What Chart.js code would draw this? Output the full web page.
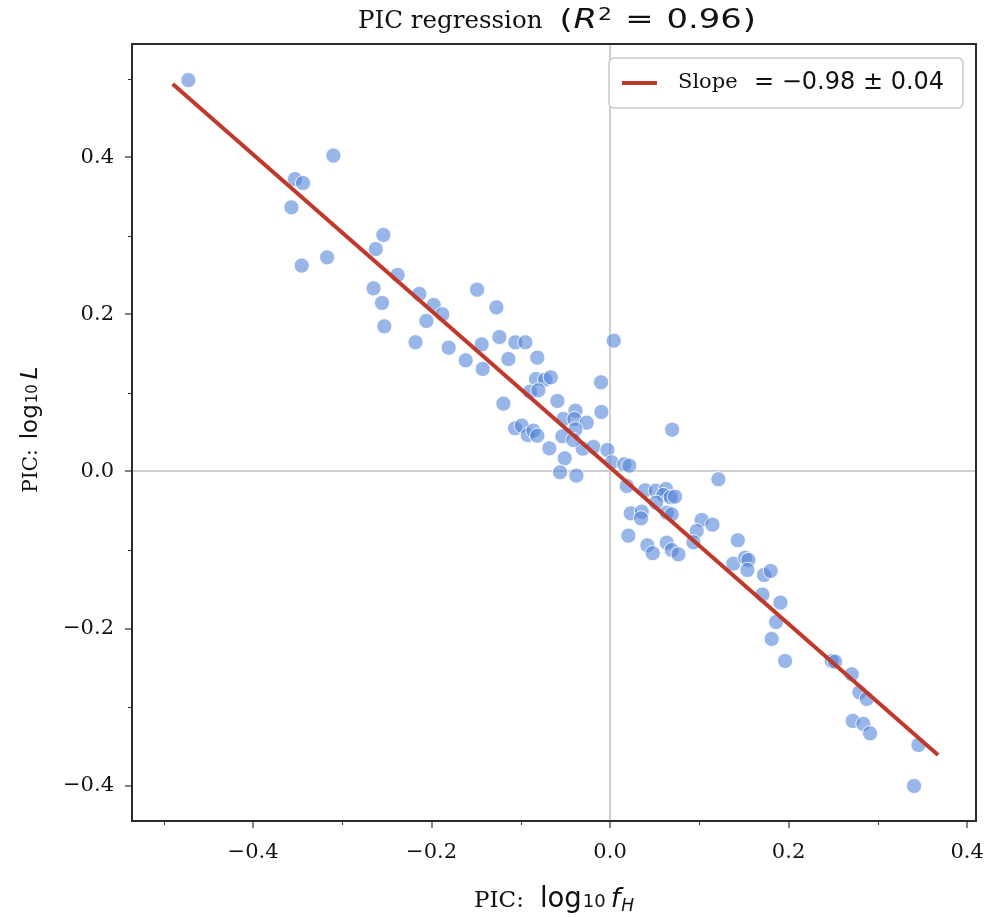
<!DOCTYPE html>
<html><head><meta charset="utf-8">
<script src="https://cdn.jsdelivr.net/npm/chart.js@4.4.1/dist/chart.umd.min.js"></script>
<style>html,body{margin:0;padding:0;background:#fff}#wrap{width:993px;height:917px}</style>
</head><body><div id="wrap"><canvas id="c" width="993" height="917"></canvas></div>
<script>
const picX = [-0.4725,-0.310,-0.353,-0.344,-0.357,-0.254,-0.2625,-0.317,-0.3455,-0.238,-0.265,-0.2137,-0.2555,-0.2529,-0.1976,-0.1879,-0.2058,-0.218,-0.1808,-0.149,-0.1273,-0.1617,-0.1438,-0.1427,-0.124,-0.1061,-0.0949,-0.1139,-0.0815,-0.0829,-0.0728,-0.0664,-0.0896,-0.0803,-0.1195,-0.059,-0.0101,-0.0097,-0.0523,-0.0388,-0.04,-0.0261,-0.1064,-0.099,-0.0922,-0.0859,-0.0815,-0.0534,-0.068,-0.0388,-0.0306,-0.0187,-0.003,-0.0508,-0.056,-0.0377,0.0041,0.0019,-0.0411,0.016,0.0216,0.0695,0.1214,0.0187,0.0392,0.0512,0.0627,0.0597,0.068,0.0728,0.0515,0.0232,0.0355,0.0347,0.0635,0.0691,0.0205,0.0418,0.0478,0.0635,0.0691,0.0766,0.1027,0.0971,0.0934,0.1147,0.1431,0.1382,0.1513,0.155,0.1539,0.1725,0.180,0.1707,0.1909,0.186,0.1811,0.1961,0.2484,0.2521,0.2708,0.2794,0.2876,0.2719,0.2838,0.2913,0.3455,0.3406];
const picY = [0.498,0.402,0.372,0.367,0.336,0.301,0.283,0.2725,0.262,0.250,0.233,0.226,0.2144,0.1847,0.2118,0.200,0.1915,0.1644,0.1575,0.2313,0.2089,0.1415,0.1618,0.1304,0.1711,0.1644,0.1644,0.1431,0.1448,0.1177,0.1168,0.1198,0.1015,0.1033,0.0863,0.0897,0.1135,0.0757,0.0668,0.0774,0.0668,0.0621,0.055,0.0583,0.0464,0.0519,0.0455,0.0448,0.0295,0.0537,0.029,0.0312,0.0274,0.0168,-0.001,-0.0053,0.1664,0.0117,0.040,0.0092,0.0074,0.0532,-0.0099,-0.0184,-0.0239,-0.0244,-0.0223,-0.0299,-0.0328,-0.032,-0.0397,-0.0532,-0.0511,-0.0596,-0.0524,-0.0545,-0.0817,-0.0939,-0.104,-0.0906,-0.0999,-0.1054,-0.0617,-0.0757,-0.0901,-0.0677,-0.0875,-0.1173,-0.1097,-0.1126,-0.1253,-0.1317,-0.1266,-0.1567,-0.1669,-0.1915,-0.2131,-0.2411,-0.2411,-0.242,-0.258,-0.2809,-0.2894,-0.3174,-0.3212,-0.3331,-0.348,-0.4001];
const fitX = [-0.490, 0.3675];
const fitY = [0.493, -0.3607];
const xTicks = [-0.5,-0.4,-0.3,-0.2,-0.1,0.0,0.1,0.2,0.3,0.4];
const yTicks = [-0.4,-0.3,-0.2,-0.1,0.0,0.1,0.2,0.3,0.4,0.5];
const titleText = ['PIC regression', '(', 'R', '2', '=', '0.96', ')'];
const legendText = ['Slope', '= \u22120.98 \u00b1 0.04'];

const isMajor = v => Math.abs(Math.round(v*10)) % 2 === 0;
const fmt = v => { if (!isMajor(v)) return ''; const s = Math.abs(v).toFixed(1); return v < -1e-9 ? '\u2212' + s : s; };
const isZero = v => Math.abs(v) < 1e-9;

// run = [text, font, dy, gapAfter, scaleX]
function runsWidth(ctx, runs) {
  let w = 0;
  runs.forEach(r => { ctx.font = r[1]; r.w = ctx.measureText(r[0]).width * (r[4] || 1); w += r.w + (r[3] || 0); });
  return w;
}
function drawRuns(ctx, runs, x, y) {
  runs.forEach(r => {
    ctx.font = r[1];
    const sx = r[4] || 1;
    ctx.save(); ctx.translate(x, y + (r[2] || 0)); ctx.scale(sx, 1); ctx.fillText(r[0], 0, 0); ctx.restore();
    x += r.w + (r[3] || 0);
  });
}

const decor = {
  id: 'decor',
  afterDraw(chart) {
    const ctx = chart.ctx, a = chart.chartArea;
    const xs = chart.scales.x, ys = chart.scales.y;
    ctx.save();
    // minor ticks
    ctx.strokeStyle = '#333'; ctx.lineWidth = 1;
    xTicks.filter(v => !isMajor(v)).forEach(v => {
      const px = Math.round(xs.getPixelForValue(v)) + 0.5;
      ctx.beginPath(); ctx.moveTo(px, a.bottom); ctx.lineTo(px, a.bottom + 4); ctx.stroke();
    });
    yTicks.filter(v => !isMajor(v)).forEach(v => {
      const py = Math.round(ys.getPixelForValue(v)) + 0.5;
      ctx.beginPath(); ctx.moveTo(a.left, py); ctx.lineTo(a.left - 4, py); ctx.stroke();
    });
    // frame
    ctx.strokeStyle = '#2b2b2b'; ctx.lineWidth = 2;
    ctx.strokeRect(a.left, a.top, a.right - a.left, a.bottom - a.top);
    ctx.fillStyle = '#111'; ctx.textBaseline = 'alphabetic'; ctx.textAlign = 'left';
    const cx = (a.left + a.right) / 2;
    // title
    const S = '"DejaVu Sans"', SF = '"DejaVu Serif"', k = 1.3;
    const tr = [
      [titleText[0], '24.5px ' + SF, 0, 17],
      [titleText[1], '26px ' + S, 0, 1, k],
      [titleText[2], 'italic 26px ' + S, 0, 1, k],
      [titleText[3], '17px ' + S, -8, 13, k],
      [titleText[4], '26px ' + S, 0, 13, k],
      [titleText[5], '26px ' + S, 0, 1, k],
      [titleText[6], '26px ' + S, 0, 0, k]
    ];
    let tw = runsWidth(ctx, tr);
    drawRuns(ctx, tr, 557 - tw / 2 + (cx - 554), 28);
    // x axis label
    const xl = [['PIC:', '23px ' + SF, 0, 16], ['log', '27.5px ' + S, 0, 1], ['10', '18px ' + S, 0, 5], ['f', 'italic 27px ' + S, 0, 1], ['H', 'italic 17px ' + S, 4, 0]];
    tw = runsWidth(ctx, xl);
    drawRuns(ctx, xl, cx - tw / 2, 907);
    // y axis label
    const yl = [['PIC:', '20px ' + SF, 0, 10], ['log', '23px ' + S, 0, 1], ['10', '15px ' + S, 0, 5], ['L', 'italic 23px ' + S, 0, 0]];
    tw = runsWidth(ctx, yl);
    ctx.save();
    ctx.translate(37, (a.top + a.bottom) / 2 - 3); ctx.rotate(-Math.PI / 2);
    drawRuns(ctx, yl, -tw / 2, 0);
    ctx.restore();
    // legend
    const lx = 609, ly = 58, lw = 354, lh = 50, r = 5;
    ctx.beginPath();
    ctx.moveTo(lx + r, ly); ctx.lineTo(lx + lw - r, ly); ctx.arcTo(lx + lw, ly, lx + lw, ly + r, r);
    ctx.lineTo(lx + lw, ly + lh - r); ctx.arcTo(lx + lw, ly + lh, lx + lw - r, ly + lh, r);
    ctx.lineTo(lx + r, ly + lh); ctx.arcTo(lx, ly + lh, lx, ly + lh - r, r);
    ctx.lineTo(lx, ly + r); ctx.arcTo(lx, ly, lx + r, ly, r); ctx.closePath();
    ctx.fillStyle = 'rgba(255,255,255,0.9)'; ctx.fill();
    ctx.strokeStyle = '#c8c8c8'; ctx.lineWidth = 1.5; ctx.stroke();
    ctx.strokeStyle = '#c0392b'; ctx.lineWidth = 4;
    ctx.beginPath(); ctx.moveTo(622, 83); ctx.lineTo(657, 83); ctx.stroke();
    ctx.fillStyle = '#111'; ctx.textBaseline = 'middle';
    ctx.font = '21px ' + SF; ctx.fillText(legendText[0], 678, 83);
    ctx.font = '24px ' + S; ctx.fillText(legendText[1], 754, 83);
    ctx.restore();
  }
};

new Chart(document.getElementById('c'), {
  data: {
    datasets: [
      { type: 'line', data: fitX.map((v, i) => ({ x: v, y: fitY[i] })), borderColor: '#c0392b', borderWidth: 4, pointRadius: 0, fill: false, borderCapStyle: 'butt' },
      { type: 'scatter', data: picX.map((v, i) => ({ x: v, y: picY[i] })), backgroundColor: 'rgba(80,130,215,0.58)', borderColor: 'rgba(255,255,255,0.85)', borderWidth: 1, pointRadius: 7.6, pointHoverRadius: 7.6 }
    ]
  },
  options: {
    responsive: false, animation: false, devicePixelRatio: 1,
    layout: { padding: { left: 0, top: 44, right: 17, bottom: 0 } },
    plugins: { legend: { display: false }, tooltip: { enabled: false }, title: { display: false } },
    scales: {
      x: {
        type: 'linear', min: -0.5356, max: 0.410,
        afterBuildTicks: s => { s.ticks = xTicks.map(v => ({ value: v })); },
        afterFit: s => { s.height = 96; s.paddingLeft = 0; s.paddingRight = 0; },
        grid: { drawOnChartArea: true, color: c => (c.tick && isZero(c.tick.value)) ? '#cfcfcf' : 'rgba(0,0,0,0)', lineWidth: 2, tickLength: 7, tickColor: c => (c.tick && isMajor(c.tick.value)) ? '#333' : 'rgba(0,0,0,0)', tickWidth: 1.2 },
        border: { display: true, color: '#2b2b2b', width: 2 },
        ticks: { autoSkip: false, maxRotation: 0, callback: v => fmt(v), font: { family: 'DejaVu Serif', size: 21 }, color: '#111', padding: 12 }
      },
      y: {
        type: 'linear', min: -0.4447, max: 0.5439,
        afterBuildTicks: s => { s.ticks = yTicks.map(v => ({ value: v })); },
        afterFit: s => { s.width = 132; s.paddingTop = 0; s.paddingBottom = 0; },
        grid: { drawOnChartArea: true, color: c => (c.tick && isZero(c.tick.value)) ? '#cfcfcf' : 'rgba(0,0,0,0)', lineWidth: 2, tickLength: 7, tickColor: c => (c.tick && isMajor(c.tick.value)) ? '#333' : 'rgba(0,0,0,0)', tickWidth: 1.2 },
        border: { display: true, color: '#2b2b2b', width: 2 },
        ticks: { autoSkip: false, callback: v => fmt(v), font: { family: 'DejaVu Serif', size: 21 }, color: '#111', padding: 11 }
      }
    }
  },
  plugins: [decor]
});
</script></body></html>
